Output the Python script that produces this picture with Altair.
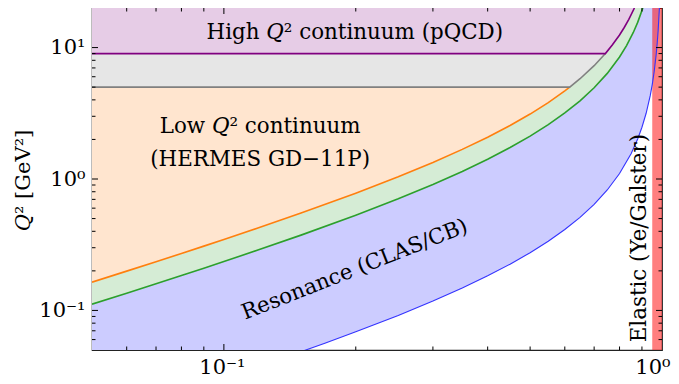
import altair as alt
import pandas as pd

# ---- axis ranges (Bjorken x, Q^2 in GeV^2) ----
x_domain = [0.05, 1.0]
q2_domain = [0.05, 20.0]

# ---- W = 2 GeV boundary (orange / grey / purple) ----
x_w2 = [0.05, 0.06, 0.07, 0.08, 0.09, 0.1, 0.12, 0.15, 0.2, 0.25, 0.3, 0.35, 0.4,
        0.45, 0.5, 0.55, 0.6, 0.6158, 0.65, 0.7, 0.7426, 0.77, 0.8, 0.82, 0.84, 0.8651]
q2_w2 = [0.1642, 0.1991, 0.2348, 0.2713, 0.3085, 0.3466, 0.4254, 0.5505, 0.7799, 1.0399,
         1.337, 1.6798, 2.0797, 2.5524, 3.1196, 3.8128, 4.6794, 5.0, 5.7935, 7.2791, 9.0,
         10.444, 12.478, 14.212, 16.378, 20.0]

# ---- W ~ 1.73 GeV boundary (green) ----
x_wg = [0.05, 0.06, 0.07, 0.08, 0.09, 0.1, 0.12, 0.15, 0.2, 0.25, 0.3, 0.35, 0.4, 0.45,
        0.5, 0.55, 0.6, 0.65, 0.7, 0.75, 0.8, 0.83, 0.86, 0.88, 0.9042]
q2_wg = [0.1116, 0.1353, 0.1596, 0.1843, 0.2097, 0.2356, 0.2891, 0.3741, 0.53, 0.7067,
         0.9086, 1.1415, 1.4133, 1.7345, 2.12, 2.5911, 3.18, 3.937, 4.9467, 6.36, 8.48,
         10.351, 13.023, 15.547, 20.0]

# ---- pion threshold (blue) ----
x_pi = [0.05, 0.1, 0.1538, 0.17, 0.2, 0.25, 0.3, 0.35, 0.4, 0.45, 0.5, 0.55, 0.6, 0.65,
        0.7, 0.75, 0.8, 0.85, 0.88, 0.9, 0.92, 0.94, 0.95, 0.96, 0.97, 0.975, 0.98, 0.9864]
q2_pi = [0.01447, 0.03056, 0.05, 0.05633, 0.06875, 0.09167, 0.1179, 0.1481, 0.1833, 0.225,
         0.275, 0.3361, 0.4125, 0.5107, 0.6417, 0.825, 1.1, 1.5583, 2.0167, 2.475, 3.1625,
         4.308, 5.225, 6.6, 8.892, 10.725, 13.475, 20.0]

q2_low_cut = 5.0
q2_high_cut = 9.0
elastic_x = [0.95, 1.0]

x_major = [0.1]
x_minor = [0.06, 0.07, 0.08, 0.09, 0.2, 0.3, 0.4, 0.5, 0.6, 0.7, 0.8, 0.9]
y_major = [0.1, 1.0, 10.0]
y_minor = [0.06, 0.07, 0.08, 0.09, 0.2, 0.3, 0.4, 0.5, 0.6, 0.7, 0.8, 0.9,
           2, 3, 4, 5, 6, 7, 8, 9]

W, H = 570, 342
FONT = "DejaVu Serif"
TXT = 21.4

xs = alt.Scale(type="log", domain=x_domain, nice=False)
ys = alt.Scale(type="log", domain=q2_domain, nice=False)

X_AXIS = alt.Axis(values=[0.1, 1.0], labelExpr="datum.value < 0.5 ? '10⁻¹' : '10⁰'",
                  ticks=False, domain=False, grid=False, labelFont=FONT,
                  labelFontSize=21, labelColor="black", labelPadding=6, labelFlush=False,
                  labelAlign={"condition": {"test": "datum.value > 0.5", "value": "right"},
                              "value": "center"},
                  labelOffset={"condition": {"test": "datum.value > 0.5", "value": 8},
                               "value": -2})
Y_AXIS = alt.Axis(values=y_major,
                  labelExpr="datum.value < 0.5 ? '10⁻¹' : (datum.value < 5 ? '10⁰' : '10¹')",
                  ticks=False, domain=False, grid=False, labelFont=FONT,
                  labelFontSize=21, labelColor="black", labelPadding=7,
                  titleFont=FONT, titleFontSize=21, titleFontWeight="normal",
                  titleColor="black", titleAngle=270, titleX=-69, titleY=172,
                  titleAlign="center", titleBaseline="middle")
Y_TITLE = "𝑄² [GeV²]"


def X(field):
    return alt.X(f"{field}:Q", scale=xs, axis=X_AXIS, title=None)


def Y(field):
    return alt.Y(f"{field}:Q", scale=ys, axis=Y_AXIS, title=Y_TITLE)


w2 = pd.DataFrame({"x": x_w2, "q2": q2_w2})
w2["grey_lo"] = w2["q2"].clip(lower=q2_low_cut)
w2["purple_lo"] = w2["q2"].clip(lower=q2_high_cut)
w2["top"] = q2_domain[1]
wg = pd.DataFrame({"x": x_wg, "q2": q2_wg, "top": q2_domain[1]})
pi = pd.DataFrame({"x": x_pi, "q2": q2_pi, "top": q2_domain[1]})


def area(df, col, color):
    return alt.Chart(df).mark_area(color=color, clip=True, opacity=1).encode(
        x=X("x"), y=Y(col), y2="top:Q")


def line(df, col, color, width=1.6):
    return alt.Chart(df).mark_line(color=color, strokeWidth=width, clip=True).encode(
        x=X("x"), y=Y(col))


blue_area = area(pi, "q2", "#ccccff")
green_area = area(wg, "q2", "#d5ecd5")
orange_area = area(w2, "q2", "#ffe5cf")
grey_area = area(w2, "grey_lo", "#e6e6e6")
purple_area = area(w2, "purple_lo", "#e6cce6")

elastic = alt.Chart(pd.DataFrame({"x": [elastic_x[0]], "x2": [elastic_x[1]],
                                  "y": [q2_domain[0]], "y2": [q2_domain[1]]})).mark_rect(
    color="red", opacity=0.5).encode(x=X("x"), x2="x2:Q", y=Y("y"), y2="y2:Q")

orange_line = line(w2[w2["x"] <= 0.6158], "q2", "#ff7f0e")
grey_line = line(w2[w2["x"] <= 0.7426], "grey_lo", "#808080")
purple_line = line(w2, "purple_lo", "#800080")
green_line = line(wg, "q2", "#2ca02c")
blue_line = line(pi, "q2", "#3333ff", 1.1)


def xticks(vals, length):
    t = alt.Chart(pd.DataFrame({"v": vals})).mark_rule(color="black", strokeWidth=1)
    return [
        t.encode(x=X("v"), y=alt.value(H), y2=alt.value(H - length)),
        t.encode(x=X("v"), y=alt.value(0), y2=alt.value(length)),
    ]


def yticks(vals, length):
    t = alt.Chart(pd.DataFrame({"v": vals})).mark_rule(color="black", strokeWidth=1)
    return [
        t.encode(y=Y("v"), x=alt.value(0), x2=alt.value(length)),
        t.encode(y=Y("v"), x=alt.value(W), x2=alt.value(W - length)),
    ]


tick_layers = xticks(x_major, 6) + xticks(x_minor, 3.5) + yticks(y_major, 6) + yticks(y_minor, 3.5)


def label(text, x, y, angle=0, size=TXT):
    df = pd.DataFrame({"x": [x], "y": [y], "t": [text]})
    return alt.Chart(df).mark_text(font=FONT, fontSize=size, color="black", angle=angle,
                                   align="center", baseline="middle").encode(
        x=X("x"), y=Y("y"), text="t:N")


texts = [
    label("High 𝑄² continuum (pQCD)", 0.199, 13.0),
    label("Low 𝑄² continuum", 0.121, 2.47),
    label("(HERMES GD−11P)", 0.121, 1.39),
    label("Resonance (CLAS/CB)", 0.199, 0.203, angle=338.5),
    label("Elastic (Ye/Galster)", 0.8915, 0.355, angle=270),
]

chart = alt.layer(
    blue_area, green_area, orange_area, grey_area, purple_area, elastic,
    orange_line, grey_line, purple_line, green_line, blue_line,
    *tick_layers, *texts,
).properties(
    width=W, height=H,
    autosize=alt.AutoSizeParams(type="none"),
    padding={"left": 84, "top": 0, "right": 9, "bottom": 34},
).configure_view(stroke="#222222", strokeWidth=1.2)

chart.save("out.html", embed_options={"renderer": "svg", "actions": False})
